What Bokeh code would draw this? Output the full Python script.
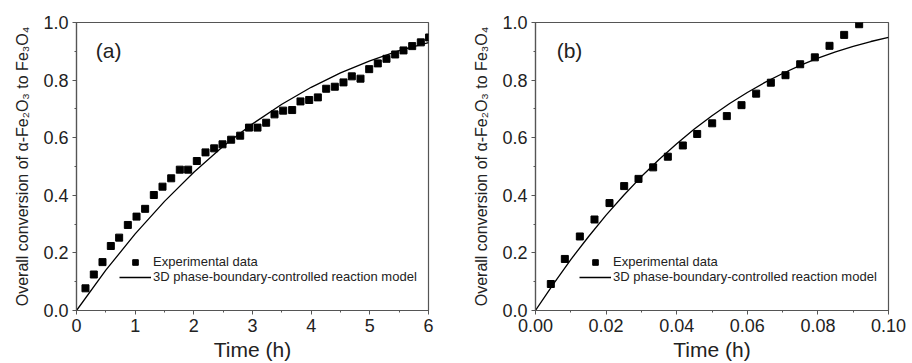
from bokeh.plotting import figure
from bokeh.layouts import row
from bokeh.models import Range1d, Legend, LegendItem, Label, NumeralTickFormatter, SingleIntervalTicker
from bokeh.embed import file_html
from bokeh.resources import INLINE

# ---------------- data ----------------
a_time = [0.153, 0.295, 0.443, 0.585, 0.727, 0.875, 1.023, 1.170, 1.318, 1.466,
          1.614, 1.761, 1.903, 2.051, 2.199, 2.347, 2.489, 2.636, 2.790, 2.940,
          3.085, 3.233, 3.375, 3.523, 3.676, 3.818, 3.966, 4.114, 4.256, 4.403,
          4.551, 4.693, 4.841, 4.989, 5.136, 5.284, 5.432, 5.574, 5.722, 5.869, 6.010]
a_conv = [0.077, 0.125, 0.168, 0.224, 0.253, 0.297, 0.326, 0.353, 0.401, 0.430,
          0.459, 0.489, 0.489, 0.519, 0.549, 0.563, 0.577, 0.593, 0.607, 0.635,
          0.635, 0.652, 0.681, 0.694, 0.696, 0.726, 0.731, 0.740, 0.770, 0.777,
          0.792, 0.813, 0.805, 0.838, 0.858, 0.874, 0.889, 0.903, 0.918, 0.931, 0.948]
a_model_time = [0.0, 0.5, 1.0, 1.5, 2.0, 2.5, 3.0, 3.5, 4.0, 4.5, 5.0, 5.5, 6.0]
a_model_conv = [0.0, 0.140, 0.266, 0.379, 0.480, 0.570, 0.648, 0.716, 0.775, 0.825, 0.867, 0.902, 0.930]

b_time = [0.00434, 0.00831, 0.01256, 0.01671, 0.02096, 0.02512, 0.02918, 0.03333,
          0.03749, 0.04174, 0.04580, 0.05005, 0.05420, 0.05836, 0.06251, 0.06667,
          0.07082, 0.07498, 0.07913, 0.08329, 0.08744, 0.09169]
b_conv = [0.092, 0.179, 0.257, 0.316, 0.373, 0.432, 0.457, 0.497, 0.534, 0.573,
          0.613, 0.650, 0.675, 0.713, 0.753, 0.791, 0.817, 0.855, 0.879, 0.919,
          0.957, 0.994]
b_model_time = [0.0, 0.005, 0.01, 0.015, 0.02, 0.025, 0.03, 0.035, 0.04, 0.045, 0.05,
                0.055, 0.06, 0.065, 0.07, 0.075, 0.08, 0.085, 0.09, 0.095, 0.1]
b_model_conv = [0.0, 0.091, 0.177, 0.256, 0.331, 0.400, 0.465, 0.524, 0.579, 0.630, 0.676,
                0.719, 0.757, 0.792, 0.823, 0.851, 0.876, 0.898, 0.917, 0.934, 0.948]

x_label = "Time (h)"
y_label = "Overall conversion of \u03b1-Fe\u2082O\u2083 to Fe\u2083O\u2084"
legend_labels = ["Experimental data", "3D phase-boundary-controlled reaction model"]
panel_tags = ["(a)", "(b)"]

FONT = "Liberation Sans"
AX = "#555555"
TXT = "#222222"


def make_panel(xs, ys, mx, my, xmax, xstep, xfmt, tag, tag_x, left, right, leg_x):
    p = figure(width=456, height=363, output_backend="svg", toolbar_location=None,
               x_range=Range1d(0, xmax), y_range=Range1d(0, 1.0),
               min_border_left=left, min_border_right=right,
               min_border_top=22, min_border_bottom=53)
    p.xgrid.visible = False
    p.ygrid.visible = False
    p.outline_line_color = AX
    p.outline_line_width = 1.2
    p.background_fill_color = "white"
    p.border_fill_color = "white"

    p.xaxis.ticker = SingleIntervalTicker(interval=xstep, num_minor_ticks=2)
    p.yaxis.ticker = SingleIntervalTicker(interval=0.2, num_minor_ticks=2)
    p.xaxis.formatter = NumeralTickFormatter(format=xfmt)
    p.yaxis.formatter = NumeralTickFormatter(format="0.0")
    for ax in (p.xaxis, p.yaxis):
        ax.axis_line_color = AX
        ax.axis_line_width = 1.2
        ax.major_tick_line_color = AX
        ax.minor_tick_line_color = AX
        ax.major_tick_out = 4
        ax.major_tick_in = 0
        ax.minor_tick_out = 2
        ax.minor_tick_in = 0
        ax.major_label_text_font = FONT
        ax.major_label_text_font_size = "18px"
        ax.major_label_text_color = TXT
        ax.axis_label_text_font = FONT
        ax.axis_label_text_font_style = "normal"
        ax.axis_label_text_color = TXT
    p.xaxis.axis_label = x_label
    p.xaxis.axis_label_text_font_size = "21px"
    p.xaxis.axis_label_standoff = 3
    p.xaxis.major_label_standoff = 4
    p.yaxis.axis_label = y_label
    p.yaxis.axis_label_text_font_size = "16px"
    p.yaxis.axis_label_standoff = 9
    p.yaxis.major_label_standoff = 4

    sc = p.scatter(xs, ys, marker="square", size=7, color="black")
    ln = p.line(mx, my, line_color="black", line_width=1.3)

    legend = Legend(items=[LegendItem(label=legend_labels[0], renderers=[sc]),
                           LegendItem(label=legend_labels[1], renderers=[ln])],
                    location=(leg_x, 26), padding=0, margin=0, spacing=0,
                    glyph_width=32, glyph_height=14, label_height=14,
                    label_standoff=2, border_line_color=None,
                    background_fill_alpha=0,
                    label_text_font=FONT, label_text_font_size="13px",
                    label_text_color=TXT)
    p.add_layout(legend, "center")

    p.add_layout(Label(x=tag_x, y=0.903, text=tag, text_font=FONT,
                       text_font_size="21px", text_color=TXT,
                       text_baseline="alphabetic"))
    return p


pa = make_panel(a_time, a_conv, a_model_time, a_model_conv, 6, 1, "0", panel_tags[0],
                0.33, 76, 28, 43)
pb = make_panel(b_time, b_conv, b_model_time, b_model_conv, 0.1, 0.02, "0.00", panel_tags[1],
                0.006, 79, 24, 44)

layout = row(pa, pb)
open("out.html", "w").write(file_html(layout, INLINE))
